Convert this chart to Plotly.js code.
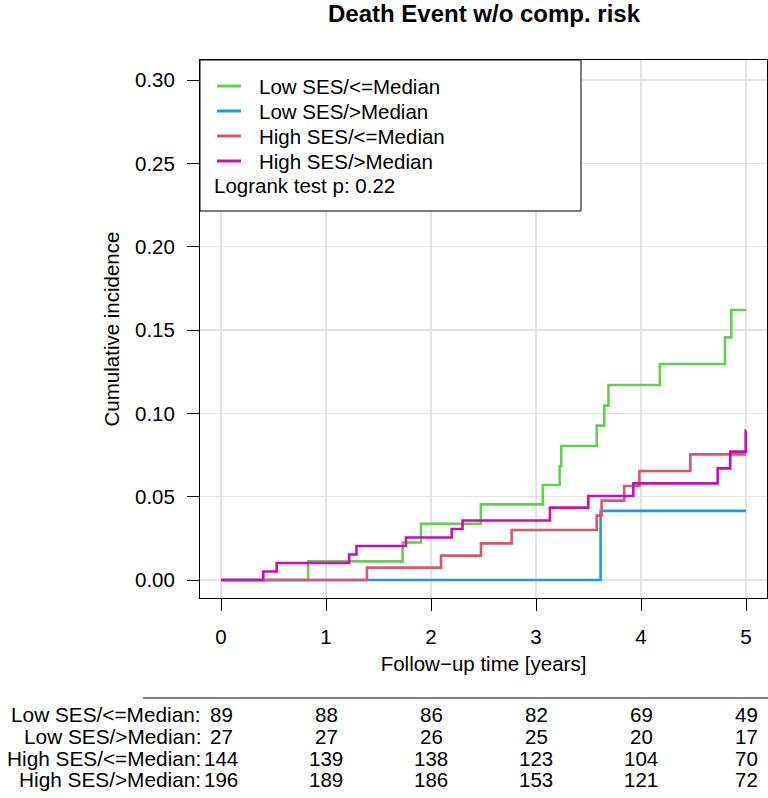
<!DOCTYPE html>
<html>
<head>
<meta charset="utf-8">
<script src="https://cdn.plot.ly/plotly-3.0.1.min.js"></script>
<style>html,body{margin:0;padding:0;background:#fff;}#chart{width:768px;height:798px;}</style>
</head>
<body>
<div id="chart"></div>
<script>
// ---- data ----
var groupNames = ["Low SES/<=Median", "Low SES/>Median", "High SES/<=Median", "High SES/>Median"];
var groupColors = ["#61D04F", "#2297E6", "#DF536B", "#CD0BBC"];

var lowLeTime = [0, 0.83, 1.73, 1.905, 2.475, 3.065, 3.225, 3.24, 3.578, 3.65, 3.69, 4.18, 4.80, 4.86, 5.0];
var lowLeCI   = [0, 0.0112, 0.0225, 0.0337, 0.0454, 0.057, 0.0684, 0.0804, 0.0926, 0.1046, 0.117, 0.1296, 0.1456, 0.162, 0.162];

var lowGtTime = [0, 3.615, 5.0];
var lowGtCI   = [0, 0.0415, 0.0415];

var highLeTime = [0, 1.39, 2.095, 2.476, 2.768, 3.578, 3.625, 3.84, 3.984, 4.47, 5.0];
var highLeCI   = [0, 0.0074, 0.0146, 0.022, 0.030, 0.0386, 0.0476, 0.0564, 0.0654, 0.0754, 0.0754];

var highGtTime = [0, 0.403, 0.53, 1.22, 1.29, 1.762, 2.197, 2.30, 3.133, 3.498, 3.927, 4.73, 4.85, 4.997, 5.0];
var highGtCI   = [0, 0.0051, 0.0102, 0.0153, 0.0204, 0.0255, 0.0306, 0.0357, 0.0434, 0.0504, 0.058, 0.067, 0.077, 0.0896, 0.0896];

var riskTimes = [0, 1, 2, 3, 4, 5];
var riskLowLe  = [89, 88, 86, 82, 69, 49];
var riskLowGt  = [27, 27, 26, 25, 20, 17];
var riskHighLe = [144, 139, 138, 123, 104, 70];
var riskHighGt = [196, 189, 186, 153, 121, 72];

var yTicks = [0, 0.05, 0.10, 0.15, 0.20, 0.25, 0.30];
var logrankText = "Logrank test p: 0.22";
var titleText = "Death Event w/o comp. risk";
var xTitle = "Follow\u2212up time [years]";
var yTitle = "Cumulative incidence";

// ---- figure ----
var FONT = "Liberation Sans, Arial, Helvetica, sans-serif";
var W = 768, H = 798;
var ML = 200, MR = 1, MT = 60, MB = 200;
var PW = W - ML - MR, PH = H - MT - MB;
function px2paperX(px) { return (px - ML) / PW; }
function px2paperY(py) { return (H - MB - py) / PH; }

var series = [[lowLeTime, lowLeCI], [lowGtTime, lowGtCI], [highLeTime, highLeCI], [highGtTime, highGtCI]];
var traces = series.map(function (s, i) {
  return {
    x: s[0], y: s[1], type: "scatter", mode: "lines",
    line: { shape: "hv", color: groupColors[i], width: 2.6 },
    name: groupNames[i], showlegend: false, hoverinfo: "x+y+name"
  };
});

var shapes = [];
var annotations = [];

// legend box
shapes.push({ type: "rect", xref: "paper", yref: "paper",
  x0: 0, x1: px2paperX(581), y0: px2paperY(211), y1: 1,
  line: { color: "#000", width: 1 }, fillcolor: "#fff", layer: "above" });
var legendRows = [86, 111, 136, 161];
groupNames.forEach(function (n, i) {
  shapes.push({ type: "line", xref: "paper", yref: "paper",
    x0: px2paperX(217), x1: px2paperX(241), y0: px2paperY(legendRows[i]), y1: px2paperY(legendRows[i]),
    line: { color: groupColors[i], width: 3 }, layer: "above" });
  annotations.push({ xref: "paper", yref: "paper", x: px2paperX(257), y: px2paperY(legendRows[i]),
    xanchor: "left", yanchor: "middle", text: n, showarrow: false,
    font: { family: FONT, size: 20.5, color: "#000" } });
});
annotations.push({ xref: "paper", yref: "paper", x: px2paperX(212), y: px2paperY(185.5),
  xanchor: "left", yanchor: "middle", text: logrankText, showarrow: false,
  font: { family: FONT, size: 20.5, color: "#000" } });

// risk table
shapes.push({ type: "line", xref: "paper", yref: "paper",
  x0: px2paperX(143), x1: 1.002, y0: px2paperY(698), y1: px2paperY(698),
  line: { color: "#000", width: 1 } });
var riskRows = [riskLowLe, riskLowGt, riskHighLe, riskHighGt];
var rowY = [714, 736, 758, 780];
riskRows.forEach(function (row, r) {
  annotations.push({ xref: "paper", yref: "paper", x: px2paperX(202), y: px2paperY(rowY[r]),
    xanchor: "right", yanchor: "middle", text: groupNames[r] + ":", showarrow: false, borderpad: 0,
    font: { family: FONT, size: 20.8, color: "#000" } });
  row.forEach(function (v, k) {
    annotations.push({ xref: "x", yref: "paper", x: riskTimes[k], y: px2paperY(rowY[r]),
      xanchor: "center", yanchor: "middle", text: String(v), showarrow: false, borderpad: 0,
      font: { family: FONT, size: 20.5, color: "#000" } });
  });
});

var layout = {
  width: W, height: H,
  margin: { l: ML, r: MR, t: MT, b: MB, pad: 0 },
  paper_bgcolor: "#fff", plot_bgcolor: "#fff",
  font: { family: FONT, size: 20.5, color: "#000" },
  title: { text: "<b>" + titleText + "</b>", font: { family: FONT, size: 24, color: "#000" },
    xref: "container", yref: "container", x: 484 / W, xanchor: "center", y: 1 - 14 / H, yanchor: "middle" },
  showlegend: false,
  xaxis: {
    range: [-0.2, 5.2], tickvals: riskTimes, ticktext: riskTimes.map(String),
    ticks: "outside", ticklen: 12, tickwidth: 1, tickcolor: "#000",
    ticklabelstandoff: 8,
    showline: true, linecolor: "#000", linewidth: 1, mirror: true,
    showgrid: true, gridcolor: "#e3e3e3", gridwidth: 1.5, zeroline: false,
    tickfont: { family: FONT, size: 20.5, color: "#000" },
    title: { text: xTitle, font: { family: FONT, size: 20.5, color: "#000" }, standoff: 10 }
  },
  yaxis: {
    range: [-0.0108, 0.312], tickvals: yTicks, tickformat: ".2f",
    ticks: "outside", ticklen: 12, tickwidth: 1, tickcolor: "#000",
    ticklabelstandoff: 8,
    showline: true, linecolor: "#000", linewidth: 1, mirror: true,
    showgrid: true, gridcolor: "#e3e3e3", gridwidth: 1.5, zeroline: false,
    tickfont: { family: FONT, size: 20.5, color: "#000" },
    title: { text: yTitle, font: { family: FONT, size: 20.5, color: "#000" }, standoff: 9 }
  },
  shapes: shapes,
  annotations: annotations
};

Plotly.newPlot("chart", traces, layout, { staticPlot: true, displayModeBar: false });
</script>
</body>
</html>
